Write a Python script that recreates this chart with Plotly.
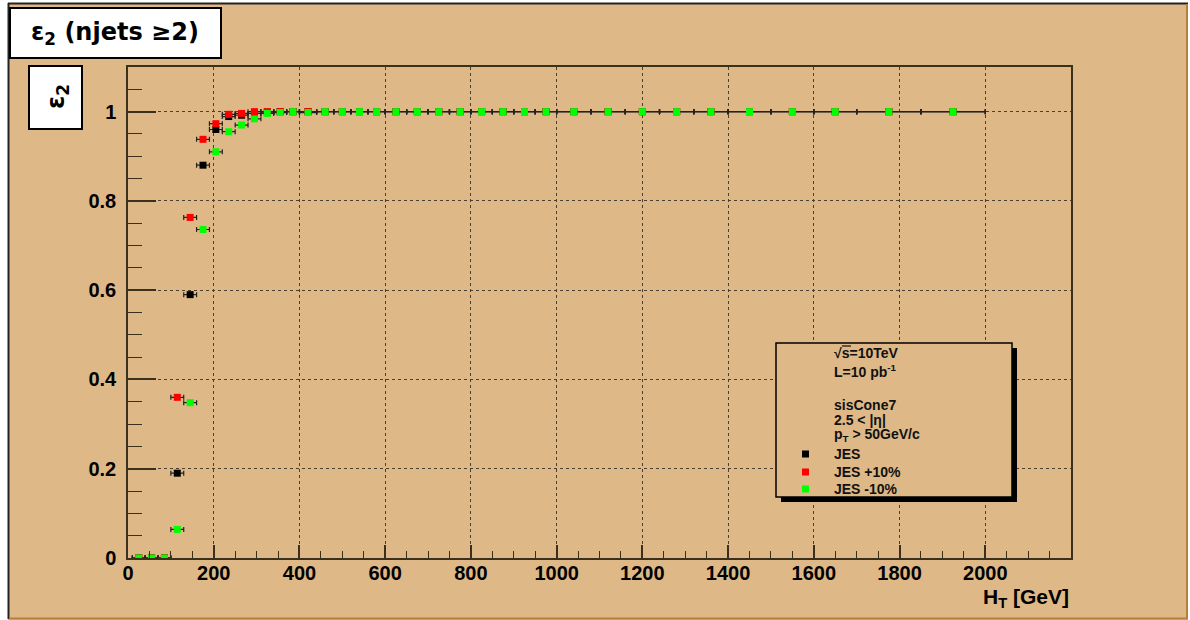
import plotly.graph_objects as go

# H_T binning (variable width bins, GeV)
bin_edges = [10, 40, 70, 100, 130, 160, 190, 220, 250, 280, 310, 340, 370, 400,
             440, 480, 520, 560, 600, 650, 700, 750, 800, 850, 900, 950, 1000,
             1080, 1160, 1240, 1320, 1400, 1500, 1600, 1700, 1850, 2000]

# efficiency eps_2 per bin for the nominal and shifted jet energy scales
eff_jes = [0, 0, 0, 0.19, 0.59, 0.88, 0.96, 0.989, 0.992, 0.996, 0.999, 1.0, 1.0,
           1.0, 1.0, 1.0, 1.0, 1.0, 1.0, 1.0, 1.0, 1.0, 1.0, 1.0, 1.0, 1.0,
           1.0, 1.0, 1.0, 1.0, 1.0, 1.0, 1.0, 1.0, 1.0, 1.0]
eff_jes_up = [0, 0, 0, 0.36, 0.763, 0.938, 0.973, 0.994, 0.996, 1.0, 1.0, 1.0, 1.0,
              1.0, 1.0, 1.0, 1.0, 1.0, 1.0, 1.0, 1.0, 1.0, 1.0, 1.0, 1.0, 1.0,
              1.0, 1.0, 1.0, 1.0, 1.0, 1.0, 1.0, 1.0, 1.0, 1.0]
eff_jes_down = [0, 0, 0, 0.064, 0.348, 0.736, 0.91, 0.955, 0.970, 0.984, 0.996, 0.998, 1.0,
                0.998, 1.0, 1.0, 1.0, 1.0, 1.0, 1.0, 1.0, 1.0, 1.0, 1.0, 1.0, 1.0,
                1.0, 1.0, 1.0, 1.0, 1.0, 1.0, 1.0, 1.0, 1.0, 1.0]

series_names = ["JES", "JES +10%", "JES -10%"]
series_colors = ["#000000", "#ff0000", "#00ff00"]

x_ticks = [0, 200, 400, 600, 800, 1000, 1200, 1400, 1600, 1800, 2000]
y_ticks = [0, 0.2, 0.4, 0.6, 0.8, 1.0]

centers = [(a + b) / 2 for a, b in zip(bin_edges[:-1], bin_edges[1:])]
half_w = [(b - a) / 2 for a, b in zip(bin_edges[:-1], bin_edges[1:])]

W, H = 1190, 620
L, R, T, B = 128, 1071, 67, 558
TAN = "#deb887"
AXC = "#3b2f1e"


def fx(px):
    return (px - L) / (R - L)


def fy(py):
    return (B - py) / (B - T)


fig = go.Figure()
for vals, name, col in zip([eff_jes, eff_jes_up, eff_jes_down], series_names, series_colors):
    fig.add_trace(go.Scatter(
        x=centers, y=vals, mode="markers", name=name,
        marker=dict(symbol="square", size=7, color=col, line=dict(width=0)),
        error_x=dict(type="data", array=half_w, color="#222", thickness=1.2, width=2.5),
        showlegend=False,
    ))

tickfont = dict(family="Liberation Sans", size=20, color="black", weight="bold")

fig.update_xaxes(
    range=[0, 2200], tickmode="array", tickvals=x_ticks,
    ticks="inside", ticklen=13, tickwidth=1.5, tickcolor=AXC,
    minor=dict(tickmode="linear", tick0=0, dtick=50, ticks="inside", ticklen=7,
               tickwidth=1.2, tickcolor=AXC, showgrid=False),
    showgrid=True, griddash="dot", gridcolor="#4a4030", gridwidth=1,
    showline=True, mirror=True, linecolor=AXC, linewidth=1.5,
    zeroline=False, tickfont=tickfont, ticklabelstandoff=-4,
)
fig.update_yaxes(
    range=[0, 1.1], tickmode="array", tickvals=y_ticks,
    ticktext=["0", "0.2", "0.4", "0.6", "0.8", "1"],
    ticks="inside", ticklen=28, tickwidth=1.5, tickcolor=AXC,
    minor=dict(tickmode="linear", tick0=0, dtick=0.05, ticks="inside", ticklen=14,
               tickwidth=1.2, tickcolor=AXC, showgrid=False),
    showgrid=True, griddash="dot", gridcolor="#4a4030", gridwidth=1,
    showline=True, mirror=True, linecolor=AXC, linewidth=1.5,
    zeroline=False, tickfont=tickfont, ticklabelstandoff=6,
)

shapes = []
# white strips around the canvas and its bevelled border
shapes += [
    dict(type="rect", xref="paper", yref="paper", x0=fx(0), x1=fx(8), y0=fy(H), y1=fy(0),
         fillcolor="white", line_width=0, layer="above"),
    dict(type="rect", xref="paper", yref="paper", x0=fx(0), x1=fx(W), y0=fy(3), y1=fy(0),
         fillcolor="white", line_width=0, layer="above"),
    dict(type="rect", xref="paper", yref="paper", x0=fx(1188), x1=fx(W), y0=fy(H), y1=fy(0),
         fillcolor="white", line_width=0, layer="above"),
    dict(type="line", xref="paper", yref="paper", x0=fx(8.5), x1=fx(8.5), y0=fy(619), y1=fy(3),
         line=dict(color="#222", width=2), layer="above"),
    dict(type="line", xref="paper", yref="paper", x0=fx(8), x1=fx(1188), y0=fy(3.5), y1=fy(3.5),
         line=dict(color="#222", width=2), layer="above"),
    dict(type="line", xref="paper", yref="paper", x0=fx(1187), x1=fx(1187), y0=fy(619), y1=fy(4),
         line=dict(color="#b5803a", width=2), layer="above"),
    dict(type="line", xref="paper", yref="paper", x0=fx(9), x1=fx(1188), y0=fy(618.5), y1=fy(618.5),
         line=dict(color="#b5803a", width=2), layer="above"),
]
# title box and y-title box
shapes += [
    dict(type="rect", xref="paper", yref="paper", x0=fx(10), x1=fx(221), y0=fy(58), y1=fy(8),
         fillcolor="white", line=dict(color="black", width=2), layer="above"),
    dict(type="rect", xref="paper", yref="paper", x0=fx(29), x1=fx(82), y0=fy(129), y1=fy(66),
         fillcolor="white", line=dict(color="black", width=2), layer="above"),
]
# legend box with drop shadow
shapes += [
    dict(type="rect", xref="paper", yref="paper", x0=fx(781), x1=fx(1017), y0=fy(502), y1=fy(348),
         fillcolor="black", line_width=0, layer="above"),
    dict(type="rect", xref="paper", yref="paper", x0=fx(776), x1=fx(1012), y0=fy(497), y1=fy(343),
         fillcolor=TAN, line=dict(color="black", width=1.5), layer="above"),
    # overline of the square root sign
    dict(type="line", xref="paper", yref="paper", x0=fx(842), x1=fx(851), y0=fy(346), y1=fy(346),
         line=dict(color="#111", width=1.2), layer="above"),
]
legend_rows = [454, 472, 489]
for py, col in zip(legend_rows, series_colors):
    shapes.append(dict(type="rect", xref="paper", yref="paper",
                       x0=fx(802), x1=fx(809), y0=fy(py + 3.5), y1=fy(py - 3.5),
                       fillcolor=col, line_width=0, layer="above"))

annotations = [
    dict(xref="paper", yref="paper", x=fx(115), y=fy(34), text="ε<sub>2</sub> (njets ≥2)",
         showarrow=False, xanchor="center", yanchor="middle",
         font=dict(family="DejaVu Sans", size=24, color="black", weight="bold")),
    dict(xref="paper", yref="paper", x=fx(58), y=fy(97), text="ε<sub>2</sub>", textangle=-90,
         showarrow=False, xanchor="center", yanchor="middle",
         font=dict(family="DejaVu Sans", size=24, color="black", weight="bold")),
    dict(xref="paper", yref="paper", x=fx(1071), y=fy(598), text="H<sub>T</sub> [GeV]",
         showarrow=False, xanchor="right", yanchor="middle",
         font=dict(family="Liberation Sans", size=21, color="black", weight="bold")),
]
legend_text = [
    (353, "√s=10TeV"),
    (371, "L=10 pb<sup>-1</sup>"),
    (405, "sisCone7"),
    (420, "2.5 &lt; |η|"),
    (435, "p<sub>T</sub> &gt; 50GeV/c"),
    (454, series_names[0]),
    (472, series_names[1]),
    (489, series_names[2]),
]
for py, txt in legend_text:
    annotations.append(dict(xref="paper", yref="paper", x=fx(832), y=fy(py), text=txt,
                            showarrow=False, xanchor="left", yanchor="middle",
                            font=dict(family="Liberation Sans", size=14, color="#111",
                                      weight="bold")))

fig.update_layout(
    width=W, height=H, autosize=False,
    margin=dict(l=L, r=W - R, t=T, b=H - B, pad=0),
    paper_bgcolor=TAN, plot_bgcolor=TAN,
    shapes=shapes, annotations=annotations,
    showlegend=False,
)

fig.write_html("out.html")
